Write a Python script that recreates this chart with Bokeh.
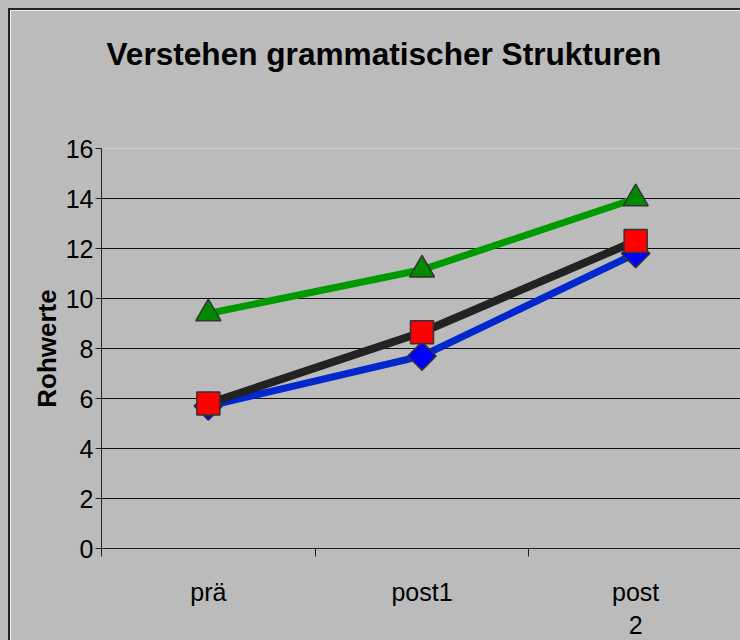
from bokeh.plotting import figure
from bokeh.models import Range1d, FixedTicker
from bokeh.embed import file_html
from bokeh.resources import INLINE
import numpy as np

# ---- data ----
categories = ["prä", "post1", "post\n2"]
series_blue = [5.7, 7.7, 11.8]
series_black = [5.8, 8.65, 12.3]
series_green = [9.4, 11.15, 14.0]
y_ticks = [0, 2, 4, 6, 8, 10, 12, 14, 16]
title_text = "Verstehen grammatischer Strukturen"
y_label = "Rohwerte"

BG = "#bbbbbb"
FONT = "Liberation Sans"

xs = [i + 0.5 for i in range(len(categories))]
bounds = list(range(len(categories) + 1))

p = figure(width=732, height=632, output_backend="svg", toolbar_location=None,
           x_range=Range1d(0, len(categories)), y_range=Range1d(0, 16),
           min_border_left=91, min_border_right=0, min_border_top=138,
           min_border_bottom=89)
p.styles = {"margin-left": "8px", "margin-top": "8px",
            "border-left": "2px solid #222222", "border-top": "2px solid #222222",
            "box-shadow": "0 0 0 8px #bbbbbb"}
p.background_fill_color = BG
p.border_fill_color = BG
p.outline_line_color = None

# title
p.title.text = title_text
p.title.text_font = FONT
p.title.text_font_size = "31.6px"
p.title.text_font_style = "bold"
p.title.text_color = "black"
p.title.align = "left"
p.title.offset = 5
p.title.standoff = 0
p.title.padding = dict(top=0, right=0, bottom=77, left=0)

# grid
p.xgrid.grid_line_color = None
p.ygrid.grid_line_color = "#111111"
p.ygrid.grid_line_width = 1
p.ygrid.ticker = FixedTicker(ticks=y_ticks)

# y axis
p.yaxis.ticker = FixedTicker(ticks=y_ticks)
p.yaxis.axis_label = y_label
p.yaxis.axis_label_text_font = FONT
p.yaxis.axis_label_text_font_size = "26px"
p.yaxis.axis_label_text_font_style = "bold"
p.yaxis.axis_label_text_color = "black"
p.yaxis.axis_label_standoff = 1
p.yaxis.major_label_text_font = FONT
p.yaxis.major_label_text_font_size = "25px"
p.yaxis.major_label_text_color = "black"
p.yaxis.major_label_standoff = 2
p.yaxis.major_tick_out = 6
p.yaxis.major_tick_in = 0
p.yaxis.minor_tick_line_color = None
p.yaxis.axis_line_color = "#222222"
p.yaxis.major_tick_line_color = "#222222"

# x axis: labels at category centers, ticks at category boundaries
p.xaxis.ticker = FixedTicker(ticks=xs, minor_ticks=bounds)
p.xaxis.major_label_overrides = {x: c for x, c in zip(xs, categories)}
p.xaxis.major_label_text_font = FONT
p.xaxis.major_label_text_font_size = "25px"
p.xaxis.major_label_text_color = "black"
p.xaxis.major_label_standoff = 21
p.xaxis.major_tick_line_color = None
p.xaxis.major_tick_out = 0
p.xaxis.major_tick_in = 0
p.xaxis.minor_tick_line_color = "#222222"
p.xaxis.minor_tick_out = 8
p.xaxis.minor_tick_in = 0
p.xaxis.axis_line_color = "#222222"

# series
p.line(xs, series_blue, line_color="#0028cc", line_width=7)
p.scatter(xs, series_blue, marker="square", angle=np.pi / 4, size=20,
          fill_color="#0000ff", line_color="#333333", line_width=1.5)

p.line(xs, series_black, line_color="#222222", line_width=8)
p.scatter(xs, series_black, marker="square", size=23,
          fill_color="#ff0000", line_color="#333333", line_width=1.5)

p.line(xs, series_green, line_color="#009900", line_width=7)
p.scatter(xs, series_green, marker="triangle", size=25,
          fill_color="#008a00", line_color="#333333", line_width=1.5)

open("out.html", "w").write(file_html(p, INLINE))
